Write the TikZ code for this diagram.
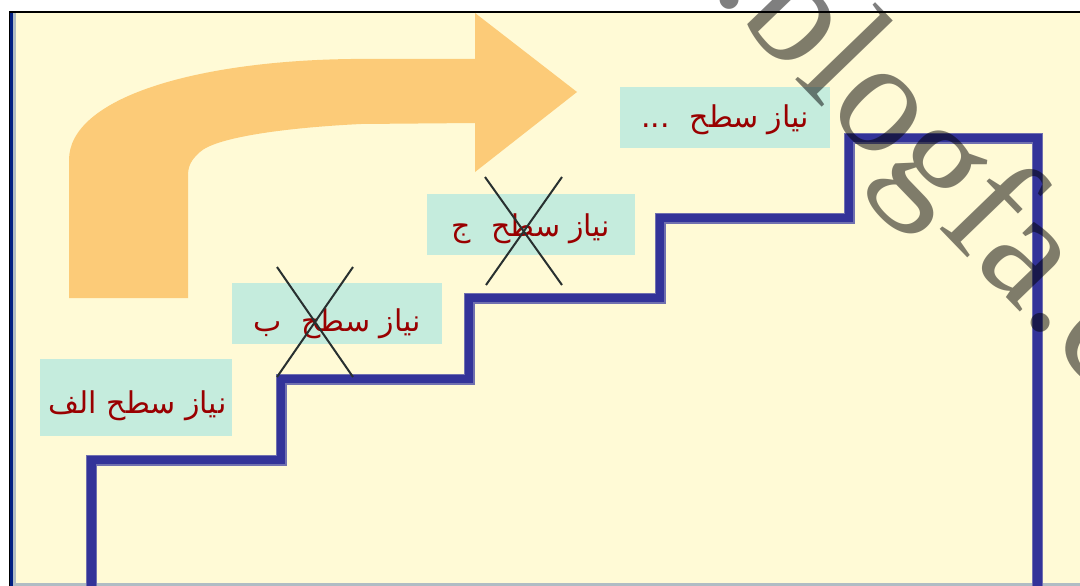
\documentclass[tikz,border=0pt]{standalone}
\usepackage{fontspec}
\setmainfont{Liberation Serif}
\TeXXeTstate=1
\newfontfamily\arabicfont[Script=Arabic]{DejaVu Sans}
\definecolor{bgyellow}{RGB}{255,250,214}
\definecolor{arroworange}{RGB}{252,203,120}
\definecolor{stairblue}{RGB}{51,51,153}
\definecolor{stairlight}{RGB}{112,112,176}
\definecolor{stairshadow}{RGB}{200,200,200}
\definecolor{boxteal}{RGB}{197,236,221}
\definecolor{labelred}{RGB}{153,0,0}
\definecolor{framegray}{RGB}{176,188,196}
\definecolor{frameblue}{RGB}{0,30,130}
\definecolor{crossgray}{RGB}{40,48,48}
\newcommand{\gapA}{\hspace{9pt}}
\newcommand{\gapB}{\hspace{20pt}}
\tikzset{
  labelbox/.style={fill=boxteal, draw=none, inner sep=0pt},
  labeltext/.style={text=labelred, inner sep=0pt, anchor=base, font=\arabicfont\fontsize{30}{34}\selectfont},
  crossline/.style={draw=crossgray, line width=2pt},
}
\begin{document}
\begin{tikzpicture}[x=1pt,y=-1pt]
\useasboundingbox (0,0) rectangle (1080,586);
\clip (0,0) rectangle (1080,586);
% frame and background
\fill[white] (0,0) rectangle (1080,586);
\fill[bgyellow] (9,12) rectangle (1080,586);
\fill[framegray] (12.7,583) rectangle (1080,586);
\fill[black] (8.5,11) rectangle (10,586);
\fill[frameblue] (10,12) rectangle (12.7,586);
\fill[framegray] (12.7,13) rectangle (15.5,583);
\fill[black] (8.5,11) rectangle (1080,13.2);
% curved arrow
\fill[arroworange] (69,298) -- (69,160)
  .. controls (69,98) and (195,61) .. (351,59)
  -- (475,59) -- (475,13) -- (577,92) -- (475,172) -- (475,123) -- (361,124)
  .. controls (280,128) and (215,138) .. (200,152)
  .. controls (191,160) and (188,166) .. (188,176)
  -- (188,298) -- cycle;
% stairs
\coordinate (s0) at (91.5,600);
\coordinate (s1) at (91.5,460);
\coordinate (s2) at (281,460);
\coordinate (s3) at (281,379);
\coordinate (s4) at (469,379);
\coordinate (s5) at (469,298);
\coordinate (s6) at (660,298);
\coordinate (s7) at (660,218);
\coordinate (s8) at (849,218);
\coordinate (s9) at (849,138);
\coordinate (s10) at (1037.5,138);
\coordinate (s11) at (1037.5,600);
\draw[stairshadow, line width=10pt, shift={(3,3)}] (s0) -- (s1) -- (s2) -- (s3) -- (s4) -- (s5) -- (s6) -- (s7) -- (s8) -- (s9) -- (s10) -- (s11);
\draw[stairlight, line width=11pt] (s0) -- (s1) -- (s2) -- (s3) -- (s4) -- (s5) -- (s6) -- (s7) -- (s8) -- (s9) -- (s10) -- (s11);
\draw[stairblue, line width=8.5pt, shift={(1,1)}] (s0) -- (s1) -- (s2) -- (s3) -- (s4) -- (s5) -- (s6) -- (s7) -- (s8) -- (s9) -- (s10) -- (s11);
% label boxes
\node[labelbox, minimum width=192pt, minimum height=77pt] (b1) at (136,397.5) {};
\node[labelbox, minimum width=210pt, minimum height=61pt] (b2) at (337,313.5) {};
\node[labelbox, minimum width=208pt, minimum height=61pt] (b3) at (531,224.5) {};
\node[labelbox, minimum width=210pt, minimum height=61pt] (b4) at (725,117.5) {};
\node[labeltext] (t1) at (137.5,413) {\beginR نیاز سطح الف\endR};
\node[labeltext] (t2) at (337,331) {\beginR نیاز\gapA سطح\gapB ب\endR};
\node[labeltext] (t3) at (531,236) {\beginR نیاز\gapA سطح\gapB ج\endR};
\node[labeltext] (t4) at (725,128) {\beginR نیاز\gapA سطح\gapB ...\endR};
% crosses
\coordinate (c2a) at (277,267);
\coordinate (c2b) at (353,377);
\coordinate (c2c) at (353,267);
\coordinate (c2d) at (277,377);
\draw[crossline] (c2a) -- (c2b);
\draw[crossline] (c2c) -- (c2d);
\coordinate (c3a) at (485,177);
\coordinate (c3b) at (562,285);
\coordinate (c3c) at (562,177);
\coordinate (c3d) at (486,285);
\draw[crossline] (c3a) -- (c3b);
\draw[crossline] (c3c) -- (c3d);
% watermark
\node[anchor=base west, inner sep=0pt, rotate=-46, text=black, text opacity=0.5,
      font=\rmfamily\fontsize{160}{160}\selectfont] (wm) at (710,-9.4) {.blogfa.com};
\end{tikzpicture}
\end{document}
